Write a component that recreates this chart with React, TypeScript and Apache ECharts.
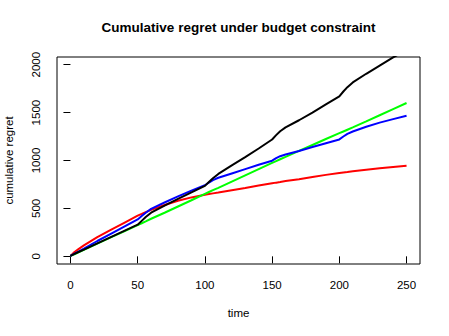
import React, { useEffect, useRef } from "react";
import * as echarts from "echarts";

const TITLE = "Cumulative regret under budget constraint";
const X_NAME = "time";
const Y_NAME = "cumulative regret";

const time = [0, 3, 6, 10, 20, 30, 40, 50, 53, 56, 60, 70, 80, 90, 100, 103, 106, 110, 120, 130, 140, 150, 153, 156, 160, 170, 180, 190, 200, 203, 206, 210, 220, 230, 240, 250];

const redValues = [5, 45, 75, 115, 200, 275, 350, 425, 443, 462, 485, 535, 580, 615, 643, 650, 657, 665, 690, 713, 738, 762, 769, 775, 785, 805, 828, 850, 870, 875, 880, 887, 903, 918, 933, 946];
const greenValues = [5, 22, 42, 68, 133, 197, 260, 325, 345, 365, 392, 455, 520, 585, 652, 671, 690, 715, 780, 845, 910, 975, 994, 1013, 1038, 1100, 1162, 1224, 1285, 1303, 1321, 1345, 1408, 1472, 1536, 1600];
const blueValues = [5, 28, 50, 80, 160, 235, 310, 385, 420, 455, 495, 562, 625, 685, 742, 770, 795, 820, 865, 910, 955, 998, 1025, 1045, 1063, 1100, 1140, 1180, 1220, 1250, 1278, 1303, 1352, 1395, 1432, 1467];
const blackValues = [5, 25, 45, 70, 135, 200, 265, 330, 370, 410, 455, 530, 600, 668, 735, 775, 815, 860, 950, 1035, 1125, 1219, 1265, 1305, 1345, 1420, 1500, 1585, 1670, 1720, 1765, 1815, 1905, 1990, 2075, 2155];

const xTicks = [0, 50, 100, 150, 200, 250];
const yTicks = [0, 500, 1000, 1500, 2000];

const FONT = "'Liberation Sans', Arial, Helvetica, sans-serif";

function pairs(vals: number[]) {
  return time.map((t, i) => [t, vals[i]]);
}

export default function App() {
  const ref = useRef<HTMLDivElement>(null);
  useEffect(() => {
    if (!ref.current) return;
    const chart = echarts.init(ref.current, null, { renderer: "svg" });
    const mk = (name: string, vals: number[], color: string) => ({
      name,
      type: "line",
      data: pairs(vals),
      showSymbol: false,
      symbol: "none",
      clip: true,
      lineStyle: { color, width: 2 },
      itemStyle: { color },
    });
    chart.setOption({
      animation: false,
      graphic: [
        {
          type: "text",
          x: 238.5,
          y: 27.5,
          style: {
            text: TITLE,
            fontFamily: FONT,
            fontSize: 13.5,
            fontWeight: "bold",
            fill: "#000",
            textAlign: "center",
            textVerticalAlign: "middle",
          },
        },
      ],
      grid: {
        left: 57,
        right: 29,
        top: 57,
        bottom: 72,
        containLabel: false,
        outerBoundsMode: "none",
        show: true,
        borderColor: "#000",
        borderWidth: 1,
        backgroundColor: "transparent",
      },
      xAxis: {
        type: "value",
        min: -10,
        max: 260,
        name: X_NAME,
        nameLocation: "middle",
        nameGap: 43,
        nameTextStyle: { fontFamily: FONT, fontSize: 11.5, color: "#000" },
        axisLine: { show: false },
        axisTick: { show: true, inside: false, length: 7, customValues: xTicks, lineStyle: { color: "#000", width: 1 } },
        axisLabel: { customValues: xTicks, margin: 15, fontFamily: FONT, fontSize: 11.5, color: "#000", formatter: (v: number) => String(v) },
        splitLine: { show: false },
      },
      yAxis: {
        type: "value",
        min: -80,
        max: 2080,
        name: Y_NAME,
        nameLocation: "middle",
        nameGap: 42,
        nameRotate: 90,
        nameTextStyle: { fontFamily: FONT, fontSize: 11.5, color: "#000" },
        axisLine: { show: false },
        axisTick: { show: true, inside: false, length: 7, customValues: yTicks, lineStyle: { color: "#000", width: 1 } },
        axisLabel: { customValues: yTicks, rotate: 90, margin: 15, fontFamily: FONT, fontSize: 11.5, color: "#000", formatter: (v: number) => String(v) },
        splitLine: { show: false },
      },
      series: [
        mk("red", redValues, "#ff0000"),
        mk("green", greenValues, "#00ff00"),
        mk("blue", blueValues, "#0000ff"),
        mk("black", blackValues, "#000000"),
      ],
    });
    return () => chart.dispose();
  }, []);
  return <div ref={ref} style={{ width: 449, height: 336, position: "absolute", left: 0, top: 0 }} />;
}
